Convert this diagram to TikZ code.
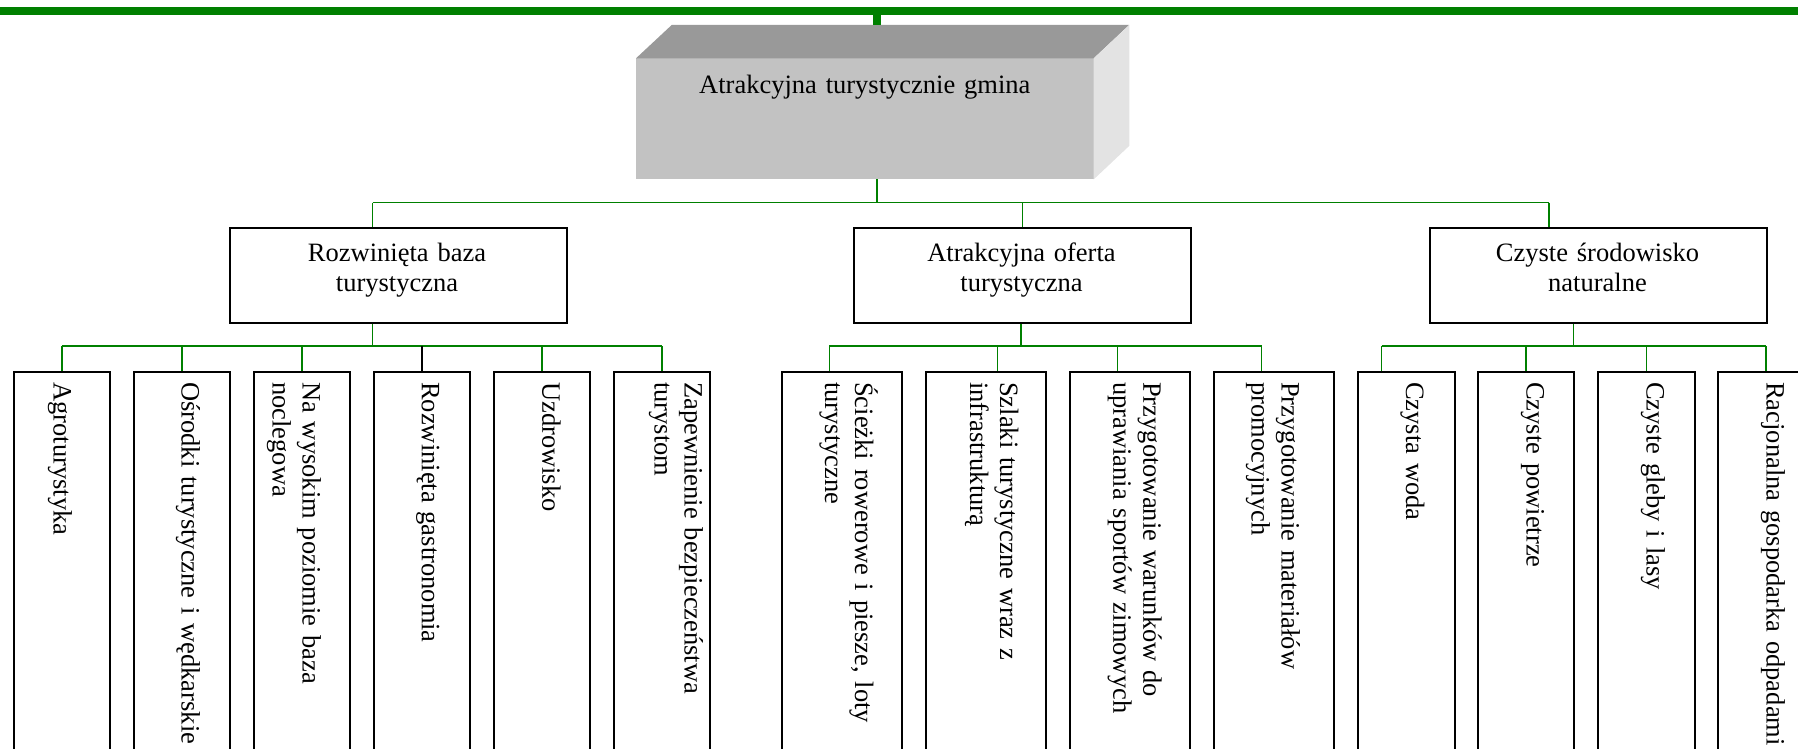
\documentclass[tikz,border=0pt]{standalone}
\usepackage{fontspec}
\setmainfont{Liberation Serif}
\definecolor{conn}{HTML}{008000}
\definecolor{topface}{HTML}{999999}
\definecolor{frontface}{HTML}{C2C2C2}
\definecolor{sideface}{HTML}{E3E3E3}
\begin{document}
\begin{tikzpicture}[x=1pt,y=-1pt,
  box/.style={draw=black,line width=2pt,fill=white,inner sep=0pt,anchor=north west,minimum height=440pt},
  bbox/.style={box,minimum width=96.3pt},
  cbox/.style={box,minimum width=120.3pt},
  midbox/.style={draw=black,line width=2pt,fill=white,inner sep=0pt,anchor=north west,minimum width=336.5pt,minimum height=95.6pt},
  link/.style={draw=conn,line width=1.4pt},
  blink/.style={draw=black,line width=1.4pt},
  vtext/.style={rotate=-90,anchor=base west,inner sep=0pt,text width=400pt,align=left,font=\fontsize{26.5}{30}\selectfont},
  htext/.style={anchor=base,inner sep=0pt,text width=440pt,align=center,font=\fontsize{26.5}{30}\selectfont}]
\useasboundingbox (0,0) rectangle (1798,749);
\clip (0,0) rectangle (1798,749);
% top bus
\coordinate (busL) at (0,10.85);
\coordinate (busR) at (1798,10.85);
\draw[conn,line width=8.3pt] (busL) -- (busR);
% 3D title box
\node[fill=frontface,inner sep=0pt,anchor=north west,minimum width=457.3pt,minimum height=120.7pt] (title) at (636,58.3) {};
\fill[topface] (title.north west) -- ++(35.7,-33.3) -- ++(457.3,0) -- (title.north east) -- cycle;
\fill[sideface] (title.north east) -- ++(35.7,-33.3) -- ++(0,120.7) -- (title.south east) -- cycle;
\node[htext] (titletext) at (864.8,93.3) {Atrakcyjna turystycznie gmina};
\coordinate (stubtop) at (877,15);
\coordinate (stubbot) at (877,25);
\draw[conn,line width=7.7pt] (stubtop) -- (stubbot);
% level 2 boxes
\node[midbox] (L1) at (229,226.7) {};
\node[midbox] (L2) at (853,226.7) {};
\node[midbox] (L3) at (1429,226.7) {};
\node[htext] (L1t) at (397,261.7) {Rozwinięta baza\\turystyczna};
\node[htext] (L2t) at (1021.5,261.7) {Atrakcyjna oferta\\turystyczna};
\node[htext] (L3t) at (1597.5,261.7) {Czyste środowisko\\naturalne};
% level 1 connectors
\coordinate (j0) at (877,202.5);
\coordinate (h1a) at (372.7,202.5);
\coordinate (h1c) at (1549,202.5);
\draw[link] (title.south -| j0) -- (j0);
\draw[link] (h1a) -- (h1c);
\draw[link] (h1a) -- (h1a |- L1.north);
\draw[link] (L2.north |- j0) -- (L2.north);
\draw[link] (h1c) -- (h1c |- L3.north);
% child boxes group 1
\node[bbox] (b1) at (12.7,370.7) {};
\node[bbox] (b2) at (132.7,370.7) {};
\node[bbox] (b3) at (252.7,370.7) {};
\node[bbox] (b4) at (372.7,370.7) {};
\node[bbox] (b5) at (492.7,370.7) {};
\node[bbox] (b6) at (612.7,370.7) {};
% group 2
\node[cbox] (c1) at (781,370.7) {};
\node[cbox] (c2) at (925,370.7) {};
\node[cbox] (c3) at (1069,370.7) {};
\node[cbox] (c4) at (1213,370.7) {};
% group 3
\node[bbox] (d1) at (1357.3,370.7) {};
\node[bbox] (d2) at (1477,370.7) {};
\node[bbox] (d3) at (1597.3,370.7) {};
\node[bbox] (d4) at (1717,370.7) {};
% texts
\node[vtext] (b1t) at (53.5,382) {Agroturystyka};
\node[vtext] (b2t) at (181.7,382) {Ośrodki turystyczne i wędkarskie};
\node[vtext] (b3t) at (302.7,382) {Na wysokim poziomie baza\\noclegowa};
\node[vtext] (b4t) at (421.9,382) {Rozwinięta gastronomia};
\node[vtext] (b5t) at (542.4,382) {Uzdrowisko};
\node[vtext] (b6t) at (684.5,382) {Zapewnienie bezpieczeństwa\\turystom};
\node[vtext] (c1t) at (855,382) {Ścieżki rowerowe i piesze, loty\\turystyczne};
\node[vtext] (c2t) at (1000,382) {Szlaki turystyczne wraz z\\infrastrukturą};
\node[vtext] (c3t) at (1143.3,382) {Przygotowanie warunków do\\uprawiania sportów zimowych};
\node[vtext] (c4t) at (1281.7,382) {Przygotowanie materiałów\\promocyjnych};
\node[vtext] (d1t) at (1406,382) {Czysta woda};
\node[vtext] (d2t) at (1526.7,382) {Czyste powietrze};
\node[vtext] (d3t) at (1646.7,382) {Czyste gleby i lasy};
\node[vtext] (d4t) at (1766.7,382) {Racjonalna gospodarka odpadami};
% level 2 connectors, group 1
\coordinate (k1) at (372.7,346);
\draw[link] (k1 |- L1.south) -- (k1);
\draw[link] (b1.north |- k1) -- (b6.north |- k1);
\draw[link] (b1.north |- k1) -- (b1.north);
\draw[link] (b2.north |- k1) -- (b2.north);
\draw[link] (b3.north |- k1) -- (b3.north);
\draw[blink] (b4.north |- k1) -- (b4.north);
\draw[link] (b5.north |- k1) -- (b5.north);
\draw[link] (b6.north |- k1) -- (b6.north);
% group 2
\coordinate (k2) at (1021,346);
\coordinate (c1a) at (829.3,346);
\coordinate (c2a) at (997.3,346);
\coordinate (c3a) at (1117.3,346);
\coordinate (c4a) at (1261.5,346);
\draw[link] (k2 |- L2.south) -- (k2);
\draw[link] (c1a) -- (c4a);
\draw[link] (c1a) -- (c1a |- c1.north);
\draw[link] (c2a) -- (c2a |- c2.north);
\draw[link] (c3a) -- (c3a |- c3.north);
\draw[link] (c4a) -- (c4a |- c4.north);
% group 3
\coordinate (k3) at (1573.3,346);
\coordinate (d1a) at (1381.5,346);
\draw[link] (k3 |- L3.south) -- (k3);
\draw[link] (d1a) -- (d4.north |- k3);
\draw[link] (d1a) -- (d1a |- d1.north);
\draw[link] (d2.north |- k3) -- (d2.north);
\draw[link] (d3.north |- k3) -- (d3.north);
\draw[link] (d4.north |- k3) -- (d4.north);
\end{tikzpicture}
\end{document}
